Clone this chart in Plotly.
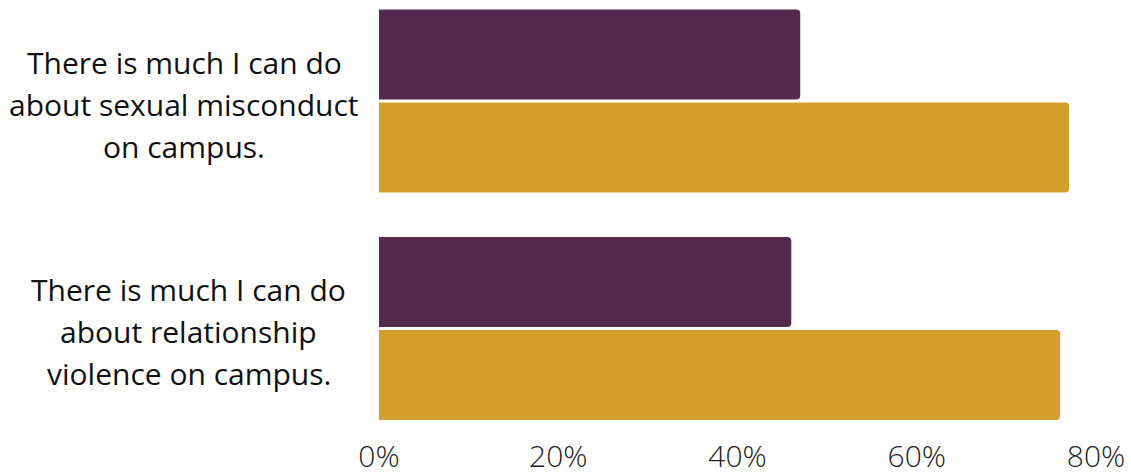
import plotly.graph_objects as go

categories = [
    "There is much I can do<br>about sexual misconduct<br>on campus.",
    "There is much I can do<br>about relationship<br>violence on campus.",
]
cat_keys = ["sexual_misconduct", "relationship_violence"]
series_a = [47, 46]   # purple
series_b = [77, 76]   # gold
tick_values = [0, 20, 40, 60, 80]
tick_labels = ["0%", "20%", "40%", "60%", "80%"]

PURPLE = "#54294e"
GOLD = "#d3a02c"

fig = go.Figure()
fig.add_trace(go.Bar(y=cat_keys, x=series_a, orientation="h", name="Series A",
                     marker=dict(color=PURPLE, line=dict(width=0))))
fig.add_trace(go.Bar(y=cat_keys, x=series_b, orientation="h", name="Series B",
                     marker=dict(color=GOLD, line=dict(width=0))))

W, H = 1131, 474
L, R, T, B = 379, 35, 0, 44
plot_w = W - L - R
label_centers = [184, 189]
LINE_H = 42

for key, label, cx in zip(cat_keys, categories, label_centers):
    lines = label.split("<br>")
    n = len(lines)
    for i, line in enumerate(lines):
        fig.add_annotation(text=line, xref="paper", yref="y", x=(cx - L) / plot_w, y=key,
                           yshift=-(i - (n - 1) / 2) * LINE_H - 3,
                           xanchor="center", yanchor="middle", align="center", showarrow=False,
                           font=dict(family="Open Sans", size=30, color="#111111"))

fig.update_layout(
    width=W, height=H,
    margin=dict(l=L, r=R, t=T, b=B, pad=0),
    barmode="group", bargap=0.182, bargroupgap=0.032, barcornerradius=4,
    showlegend=False,
    plot_bgcolor="white", paper_bgcolor="white",
    xaxis=dict(range=[0, 80], tickvals=tick_values, ticktext=tick_labels,
               showgrid=False, zeroline=False, showline=False, ticks="",
               ticklabelstandoff=6, automargin=False,
               tickfont=dict(family="Open Sans", size=30, color="#222222", weight=300)),
    yaxis=dict(type="category", categoryorder="array", categoryarray=cat_keys,
               range=[1.446, -0.444], showticklabels=False, showgrid=False,
               zeroline=False, showline=False, ticks="", automargin=False),
)

fig.write_html("out.html", config={"displayModeBar": False},
               post_script="document.body.style.margin='0';document.body.style.overflow='hidden';")
